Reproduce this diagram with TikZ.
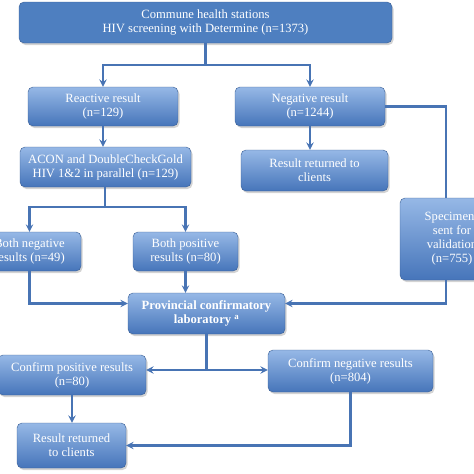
\documentclass[tikz,border=0pt]{standalone}
\usepackage{fontspec}
\setmainfont{Liberation Serif}
\usetikzlibrary{shadows}
\definecolor{boxtop}{RGB}{150,184,230}
\definecolor{boxbot}{RGB}{70,117,186}
\definecolor{boxdark}{RGB}{78,127,192}
\definecolor{linecol}{RGB}{72,116,180}
\begin{document}
\begin{tikzpicture}[>=stealth, x=1pt, y=-1pt,
    stage/.style={rectangle, rounded corners=5pt, draw=boxbot!80!black, line width=0.4pt,
        top color=boxtop, bottom color=boxbot, text=white, align=center,
        font=\fontsize{12.6}{14}\selectfont, inner sep=2pt,
        drop shadow={opacity=0.35, shadow xshift=1.5pt, shadow yshift=-2pt}},
    flow/.style={draw=linecol, line width=2.2pt}]
    % Picture frame
    \clip (0,0) rectangle (474,474);

    % Screening at the commune level
    \node[stage, top color=boxdark, bottom color=boxdark, minimum width=373pt, minimum height=41pt] (screen) at (205.5,22.5)
        {Commune health stations\\HIV screening with Determine (n=1373)};
    \node[stage, minimum width=150pt, minimum height=39pt] (reactive) at (103,106.5) {Reactive result\\(n=129)};
    \node[stage, minimum width=150pt, minimum height=39pt] (negative) at (310,106.5) {Negative result\\(n=1244)};

    % Second tier of tests
    \node[stage, minimum width=171pt, minimum height=40pt] (acon) at (105.5,167)
        {ACON and DoubleCheckGold\\HIV 1\&2 in parallel (n=129)};
    \node[stage, minimum width=147pt, minimum height=41pt] (returnA) at (314.5,170.5) {Result returned to\\clients};
    \node[stage, minimum width=103pt, minimum height=39pt] (bothneg) at (29.5,251.5) {Both negative\\results (n=49)};
    \node[stage, minimum width=105pt, minimum height=39pt] (bothpos) at (185.5,251.5) {Both positive\\results (n=80)};
    \node[stage, minimum width=104pt, minimum height=82pt] (specimens) at (452,239)
        {Specimens\\sent for\\validation\\(n=755)};

    % Confirmation
    \node[stage, font=\fontsize{12.6}{14}\selectfont\bfseries, minimum width=157pt, minimum height=41pt] (province) at (206.5,313.5)
        {Provincial confirmatory\\laboratory \textsuperscript{a}};
    \node[stage, minimum width=148pt, minimum height=40pt] (confpos) at (72,375) {Confirm positive results\\(n=80)};
    \node[stage, minimum width=165pt, minimum height=42pt] (confneg) at (350.5,371) {Confirm negative results\\(n=804)};
    \node[stage, minimum width=109pt, minimum height=45pt] (returnB) at (71.5,445.5) {Result returned\\to clients};

    % Branch points
    \coordinate (split1) at (205.5,65);
    \coordinate (split2) at (105,207);
    \coordinate (split3) at (206.5,370);

    % Connectors
    \draw[flow] (screen.south) -- (split1);
    \draw[flow, ->] (split1) -| (reactive.north);
    \draw[flow, ->] (split1) -| (negative.north);
    \draw[flow, ->] (reactive.south) -- (reactive.south |- acon.north);
    \draw[flow, ->] (negative.south) -- (negative.south |- returnA.north);
    \draw[flow] (negative.east) -| ([xshift=-6pt]specimens.north);
    \draw[flow] (acon.south -| split2) -- (split2);
    \draw[flow, ->] (split2) -| (bothneg.north);
    \draw[flow, ->] (split2) -| (bothpos.north);
    \draw[flow, ->] (bothneg.south) |- ([yshift=10pt]province.west);
    \draw[flow, ->] (bothpos.south) -- (bothpos.south |- province.north);
    \draw[flow, ->] ([xshift=-6pt]specimens.south) |- ([yshift=10pt]province.east);
    \draw[flow] (province.south) -- (split3);
    \draw[flow, ->] (split3) -- (split3 -| confpos.east);
    \draw[flow, ->] (split3) -- (split3 -| confneg.west);
    \draw[flow, ->] (confpos.south) -- (confpos.south |- returnB.north);
    \draw[flow, ->] (confneg.south) |- (returnB.east);
\end{tikzpicture}
\end{document}
